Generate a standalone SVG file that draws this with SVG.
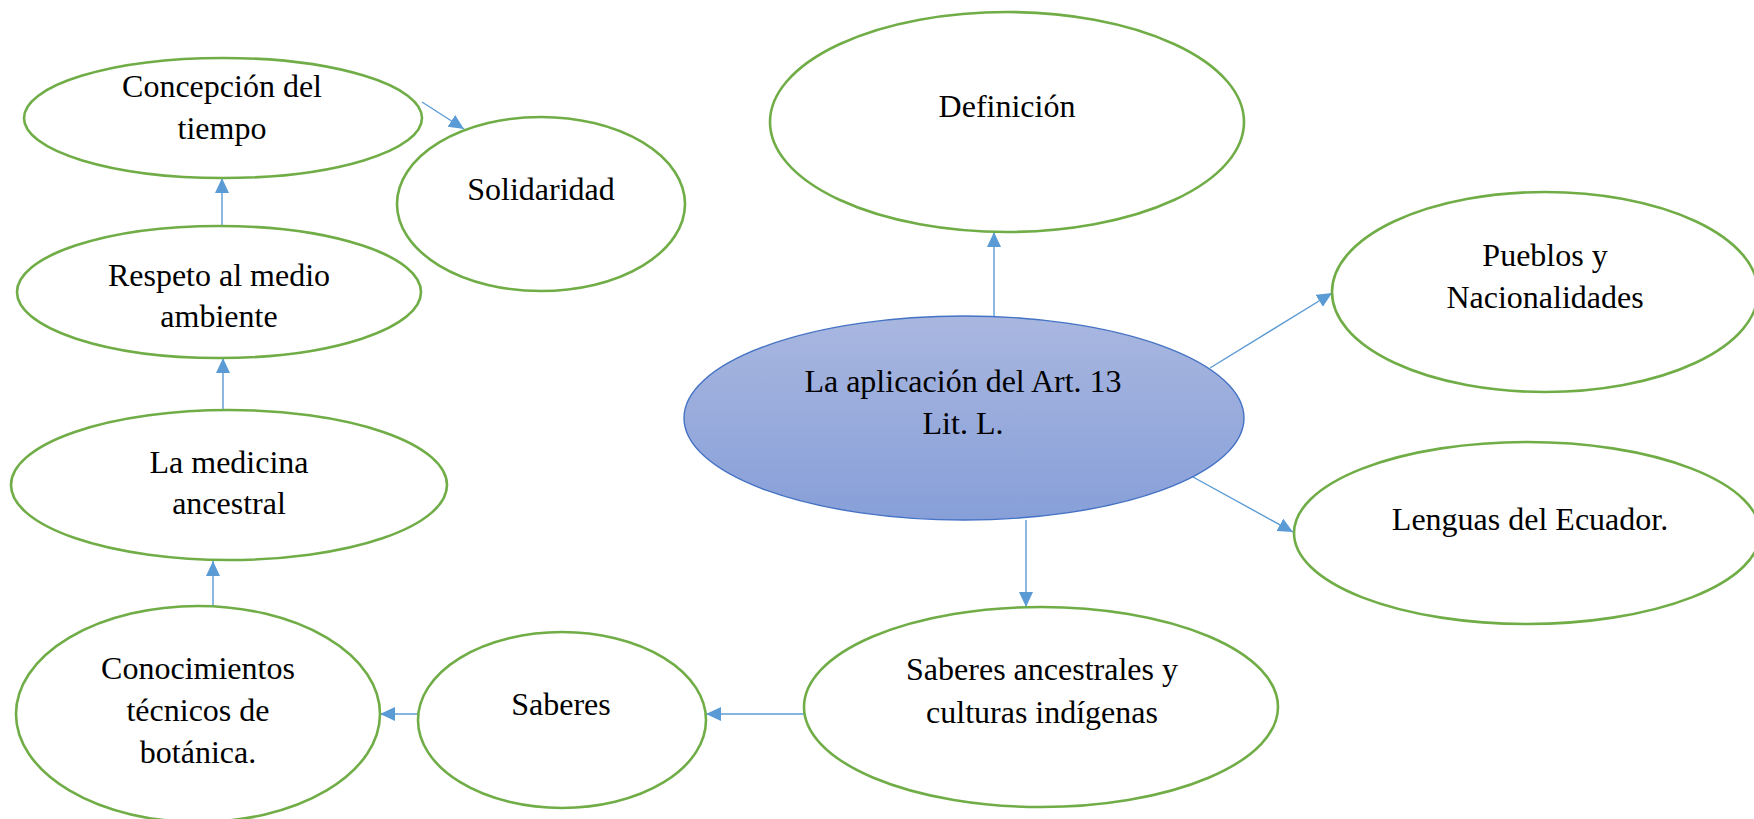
<svg xmlns="http://www.w3.org/2000/svg" width="1754" height="819" viewBox="0 0 1754 819">
<style>
.node{fill:#ffffff;stroke:#70AD47;stroke-width:2.6}
.t{font-family:"Liberation Serif","Times New Roman",serif;font-size:32px;fill:#000;text-anchor:middle}
.c{fill:none;stroke:#5B9BD5;stroke-width:1.4}
</style>
<defs>
<marker id="ah" markerUnits="userSpaceOnUse" markerWidth="16" markerHeight="15" refX="15" refY="7" orient="auto">
<path d="M0,0 L15,7 L0,14 z" fill="#5B9BD5"/>
</marker>
<linearGradient id="cg" x1="0" y1="0" x2="0" y2="1">
<stop offset="0" stop-color="#A9B7E0"/>
<stop offset="1" stop-color="#879FD8"/>
</linearGradient>
</defs>
<g id="connectors">
<line class="c" x1="994" y1="316" x2="994" y2="232" marker-end="url(#ah)"/>
<line class="c" x1="1026" y1="520" x2="1026" y2="607" marker-end="url(#ah)"/>
<line class="c" x1="1210" y1="368" x2="1332" y2="293" marker-end="url(#ah)"/>
<line class="c" x1="1193" y1="477" x2="1293" y2="532" marker-end="url(#ah)"/>
<line class="c" x1="804" y1="714" x2="706" y2="714" marker-end="url(#ah)"/>
<line class="c" x1="418" y1="714" x2="380" y2="714" marker-end="url(#ah)"/>
<line class="c" x1="213" y1="606" x2="213" y2="561" marker-end="url(#ah)"/>
<line class="c" x1="223" y1="410" x2="223" y2="358" marker-end="url(#ah)"/>
<line class="c" x1="222" y1="226" x2="222" y2="178" marker-end="url(#ah)"/>
<line class="c" x1="422" y1="102" x2="464" y2="129" marker-end="url(#ah)"/>
</g>
<g id="central">
<ellipse cx="964" cy="418" rx="280" ry="102" fill="url(#cg)" stroke="#4472C4" stroke-width="1.4"/>
<text class="t" x="963" y="392">La aplicación del Art. 13</text>
<text class="t" x="963" y="434">Lit. L.</text>
</g>
<g id="definicion">
<ellipse class="node" cx="1007" cy="122" rx="237" ry="110"/>
<text class="t" x="1007" y="117">Definición</text>
</g>
<g id="pueblos">
<ellipse class="node" cx="1545" cy="292" rx="213" ry="100"/>
<text class="t" x="1545" y="266">Pueblos y</text>
<text class="t" x="1545" y="308">Nacionalidades</text>
</g>
<g id="lenguas">
<ellipse class="node" cx="1527" cy="533" rx="233" ry="91"/>
<text class="t" x="1530" y="530">Lenguas del Ecuador.</text>
</g>
<g id="saberes-ancestrales">
<ellipse class="node" cx="1041" cy="707" rx="237" ry="100"/>
<text class="t" x="1042" y="680">Saberes ancestrales y</text>
<text class="t" x="1042" y="723">culturas indígenas</text>
</g>
<g id="saberes">
<ellipse class="node" cx="562" cy="720" rx="144" ry="88"/>
<text class="t" x="561" y="715">Saberes</text>
</g>
<g id="conocimientos">
<ellipse class="node" cx="198" cy="714" rx="182" ry="108"/>
<text class="t" x="198" y="679">Conocimientos</text>
<text class="t" x="198" y="721">técnicos de</text>
<text class="t" x="198" y="763">botánica.</text>
</g>
<g id="medicina">
<ellipse class="node" cx="229" cy="485" rx="218" ry="75"/>
<text class="t" x="229" y="473">La medicina</text>
<text class="t" x="229" y="514">ancestral</text>
</g>
<g id="respeto">
<ellipse class="node" cx="219" cy="292" rx="202" ry="66"/>
<text class="t" x="219" y="286">Respeto al medio</text>
<text class="t" x="219" y="327">ambiente</text>
</g>
<g id="concepcion">
<ellipse class="node" cx="223" cy="118" rx="199" ry="60"/>
<text class="t" x="222" y="97">Concepción del</text>
<text class="t" x="222" y="139">tiempo</text>
</g>
<g id="solidaridad">
<ellipse class="node" cx="541" cy="204" rx="144" ry="87"/>
<text class="t" x="541" y="200">Solidaridad</text>
</g>
</svg>
